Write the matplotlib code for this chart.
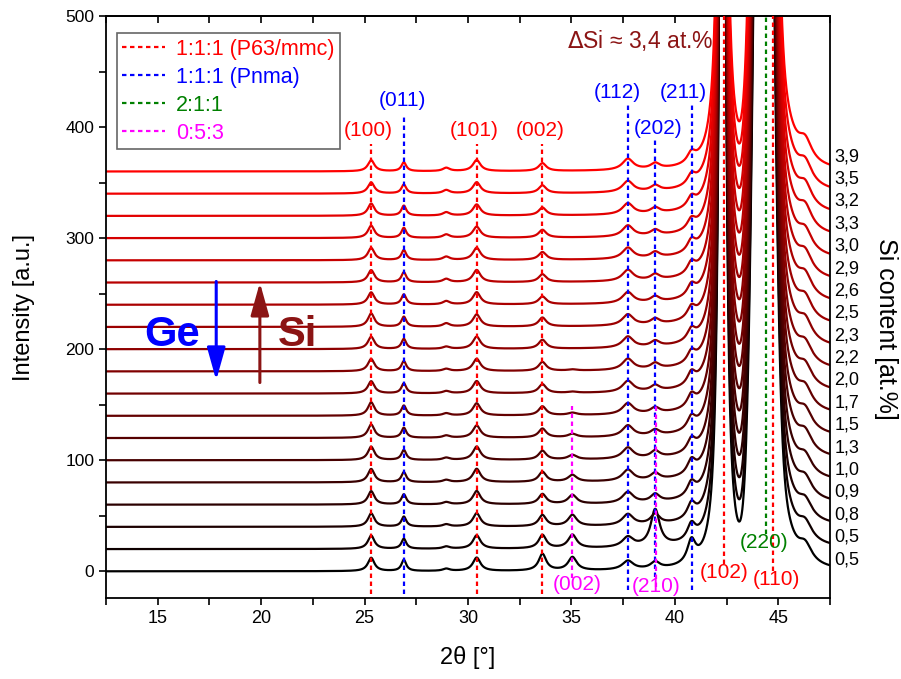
import numpy as np
import matplotlib
matplotlib.use('Agg')
import matplotlib.pyplot as plt
from matplotlib.lines import Line2D
from matplotlib.ticker import MultipleLocator

plt.rcParams.update({
    'font.family': ['Liberation Sans', 'DejaVu Sans'],
    'font.size': 12,
    'axes.linewidth': 1.3,
    'xtick.major.width': 1.2,
    'ytick.major.width': 1.2,
    'xtick.minor.width': 1.2,
    'ytick.minor.width': 1.2,
})

# Si content of each pattern, bottom to top
si_content = ['0,5', '0,5', '0,8', '0,9', '1,0', '1,3', '1,5', '1,7', '2,0', '2,2',
              '2,3', '2,5', '2,6', '2,9', '3,0', '3,3', '3,2', '3,5', '3,9']
offset_step = 20

# weak reflections (Lorentzian): position [deg], half width, height per pattern
peak_pos = [25.32, 26.9, 28.95, 30.42, 33.6, 35.05, 37.73, 39.05, 40.8, 45.3, 46.3]
peak_hwhm = [0.19, 0.14, 0.2, 0.22, 0.22, 0.25, 0.32, 0.26, 0.24, 0.6, 0.4]
h_100 = [12, 12, 12, 12, 12, 12, 12, 12, 11, 11, 11, 12, 11, 11, 11, 11, 11, 10, 10]
h_011 = [10, 9, 9, 9, 9, 9, 9, 9, 9, 9, 9, 9, 9, 9, 9, 9, 9, 8, 8]
h_290 = [2, 2, 2, 2, 2, 2, 2, 2, 2, 2, 2, 3, 3, 3, 3, 3, 3, 3, 3]
h_101 = [12, 12, 12, 12, 12, 12, 11, 11, 11, 11, 11, 11, 11, 11, 11, 10, 10, 10, 10]
h_002 = [15, 12, 10, 9, 9, 8, 8, 8, 8, 8, 8, 8, 7, 7, 7, 7, 7, 7, 7]
h_002_053 = [12, 12, 10, 8, 6, 4, 3, 2, 1, 1, 0, 0, 0, 0, 0, 0, 0, 0, 0]
h_112 = [8, 9, 10, 10, 10, 10, 10, 10, 10, 10, 10, 10, 10, 10, 10, 10, 10, 10, 10]
h_202 = [6, 33, 9, 7, 6, 6, 5, 5, 5, 5, 5, 5, 5, 5, 5, 5, 5, 5, 5]
h_211 = [20, 14, 13, 12, 12, 11, 11, 11, 11, 10, 10, 10, 10, 10, 10, 9, 9, 9, 9]
h_tail = [45, 45, 45, 46, 46, 47, 47, 48, 48, 48, 49, 49, 50, 50, 50, 51, 51, 52, 52]
h_shoulder = [15, 15, 15, 15, 15, 16, 16, 16, 16, 16, 17, 17, 17, 17, 17, 18, 18, 18, 18]
heights = [h_100, h_011, h_290, h_101, h_002, h_002_053, h_112, h_202, h_211,
           h_tail, h_shoulder]

# strong reflections, identical in all patterns
big_lor_pos, big_lor_hwhm, big_lor_height = 42.3, 0.12, 1500
big_gau_pos, big_gau_sigma, big_gau_height = 44.3, 0.38, 1200

# reflection markers: position, y from, y to
ref_red = [(25.32, -20, 385), (30.42, -20, 385), (33.6, -20, 385),
           (42.36, 7, 500), (44.74, 0, 500)]
ref_blue = [(26.9, -20, 412), (37.73, -17, 420), (39.05, -5, 389), (40.81, -17, 420)]
ref_green = [(44.42, 34, 500)]
ref_magenta = [(35.05, -6, 149), (39.08, -14, 150)]

# reflection labels: text, x, y, colour
hkl_labels = [
    ('(100)', 25.2, 397, 'red'), ('(011)', 26.85, 424, 'blue'),
    ('(101)', 30.3, 397, 'red'), ('(002)', 33.5, 397, 'red'),
    ('(112)', 37.24, 431, 'blue'), ('(202)', 39.2, 399, 'blue'),
    ('(211)', 40.4, 431, 'blue'), ('(002)', 35.3, -12, 'magenta'),
    ('(210)', 39.1, -14, 'magenta'), ('(102)', 42.4, -1, 'red'),
    ('(110)', 44.9, -7.5, 'red'), ('(220)', 44.3, 26, 'green'),
]

RED = '#ff0000'
BLUE = '#0000ff'
GREEN = '#008000'
MAGENTA = '#ff00ff'
DARKRED = '#8b1414'
colour_of = {'red': RED, 'blue': BLUE, 'green': GREEN, 'magenta': MAGENTA}
dots = (0, (2, 1.6))


def lorentz(x, x0, g):
    return 1.0 / (1.0 + ((x - x0) / g) ** 2)


def gauss(x, x0, s):
    return np.exp(-0.5 * ((x - x0) / s) ** 2)


tt = np.linspace(12.5, 47.5, 3501)
common = (big_lor_height * lorentz(tt, big_lor_pos, big_lor_hwhm)
          + big_gau_height * gauss(tt, big_gau_pos, big_gau_sigma))

fig = plt.figure(figsize=(9.01, 6.79), dpi=100)
ax = fig.add_axes([0.1176, 0.1193, 0.8036, 0.8571])

n = len(si_content)
label_y = np.linspace(10.5, 373.5, n)
for i in range(n):
    y = common + i * offset_step
    for p, g, h in zip(peak_pos, peak_hwhm, heights):
        y = y + h[i] * lorentz(tt, p, g)
    ax.plot(tt, y, color=(i / (n - 1), 0, 0), lw=1.6, zorder=2)
    ax.text(1.006, label_y[i], si_content[i], transform=ax.get_yaxis_transform(),
            ha='left', va='center', fontsize=13, clip_on=False)

for refs, col in [(ref_red, RED), (ref_blue, BLUE), (ref_green, GREEN), (ref_magenta, MAGENTA)]:
    for x0, y0, y1 in refs:
        ax.plot([x0, x0], [y0, y1], color=col, lw=1.6, ls=dots, zorder=3)

for txt, x0, y0, col in hkl_labels:
    ax.text(x0, y0, txt, color=colour_of[col], fontsize=15, ha='center', va='center', zorder=4)

ax.text(38.35, 478, r'$\Delta$Si ≈ 3,4 at.%', color=DARKRED, fontsize=16.5,
        ha='center', va='center')
ax.text(15.68, 213, 'Ge', color=BLUE, fontsize=30, fontweight='bold', ha='center', va='center')
ax.text(21.78, 213, 'Si', color=DARKRED, fontsize=30, fontweight='bold', ha='center', va='center')
arrow = '-|>,head_width=0.28,head_length=1.0'
ax.annotate('', xy=(17.83, 172), xytext=(17.83, 261),
            arrowprops=dict(arrowstyle=arrow, color=BLUE, lw=2.2, mutation_scale=20,
                            shrinkA=0, shrinkB=0))
ax.annotate('', xy=(19.94, 260), xytext=(19.94, 170),
            arrowprops=dict(arrowstyle=arrow, color=DARKRED, lw=2.2, mutation_scale=20,
                            shrinkA=0, shrinkB=0))

handles = [Line2D([], [], color=c, lw=1.6, ls=dots) for c in (RED, BLUE, GREEN, MAGENTA)]
leg = ax.legend(handles, ['1:1:1 (P63/mmc)', '1:1:1 (Pnma)', '2:1:1', '0:5:3'],
                loc='upper left', bbox_to_anchor=(0.015, 0.97), fontsize=15.5,
                labelcolor=[RED, BLUE, GREEN, MAGENTA], fancybox=False,
                edgecolor='0.4', framealpha=1, handlelength=2.0, borderpad=0.25,
                labelspacing=0.32, handletextpad=0.5, borderaxespad=0)
leg.get_frame().set_linewidth(1.2)

ax.set_xlim(12.5, 47.5)
ax.set_ylim(-24, 500)
ax.xaxis.set_major_locator(MultipleLocator(5))
ax.xaxis.set_minor_locator(MultipleLocator(2.5))
ax.yaxis.set_major_locator(MultipleLocator(100))
ax.yaxis.set_minor_locator(MultipleLocator(50))
ax.tick_params(axis='x', which='both', direction='out', length=5, top=False, labelsize=13)
ax.tick_params(axis='y', which='both', direction='out', length=5, right=False, labelsize=12.5)
top = ax.secondary_xaxis('top')
top.xaxis.set_major_locator(MultipleLocator(2.5))
top.tick_params(direction='in', length=5, labeltop=False)

ax.set_xlabel('2θ [°]', fontsize=17, labelpad=14)
ax.set_ylabel('Intensity [a.u.]', fontsize=17, labelpad=22)
fig.text(0.983, 0.515, 'Si content [at.%]', rotation=270, fontsize=18, ha='center', va='center')

fig.savefig('out.png', dpi=100)
